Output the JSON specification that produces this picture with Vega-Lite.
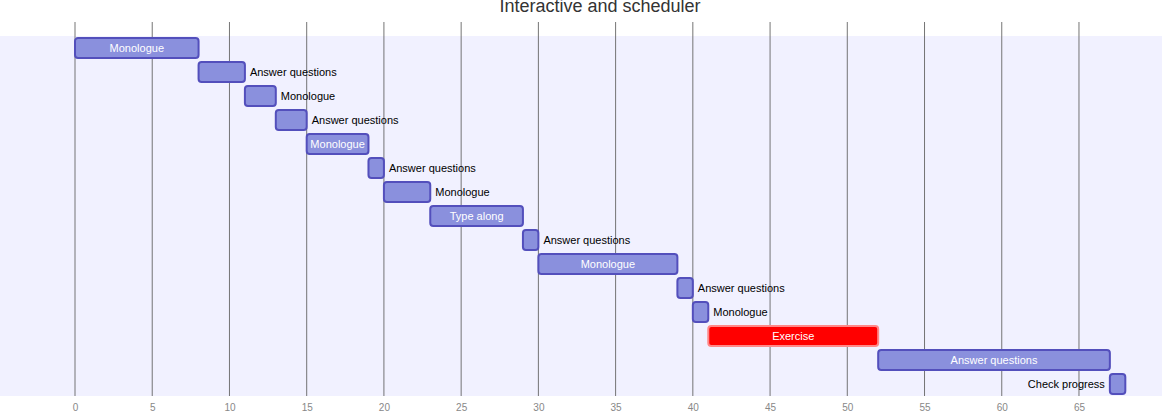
{
  "$schema": "https://vega.github.io/schema/vega-lite/v6.json",
  "width": 1162,
  "height": 374,
  "autosize": {"type": "none"},
  "padding": {"top": 22, "left": 0, "right": 0, "bottom": 15},
  "background": "white",
  "title": {
    "text": "Interactive and scheduler",
    "fontSize": 18,
    "font": "Liberation Sans",
    "fontWeight": "normal",
    "color": "#333333",
    "anchor": "middle",
    "dx": 19,
    "offset": 6
  },
  "config": {"view": {"stroke": null}},
  "datasets": {
    "tasks": [
      {"task": "Monologue", "start": 0, "end": 8, "row": 0, "placement": "inside", "status": "normal"},
      {"task": "Answer questions", "start": 8, "end": 11, "row": 1, "placement": "right", "status": "normal"},
      {"task": "Monologue", "start": 11, "end": 13, "row": 2, "placement": "right", "status": "normal"},
      {"task": "Answer questions", "start": 13, "end": 15, "row": 3, "placement": "right", "status": "normal"},
      {"task": "Monologue", "start": 15, "end": 19, "row": 4, "placement": "inside", "status": "normal"},
      {"task": "Answer questions", "start": 19, "end": 20, "row": 5, "placement": "right", "status": "normal"},
      {"task": "Monologue", "start": 20, "end": 23, "row": 6, "placement": "right", "status": "normal"},
      {"task": "Type along", "start": 23, "end": 29, "row": 7, "placement": "inside", "status": "normal"},
      {"task": "Answer questions", "start": 29, "end": 30, "row": 8, "placement": "right", "status": "normal"},
      {"task": "Monologue", "start": 30, "end": 39, "row": 9, "placement": "inside", "status": "normal"},
      {"task": "Answer questions", "start": 39, "end": 40, "row": 10, "placement": "right", "status": "normal"},
      {"task": "Monologue", "start": 40, "end": 41, "row": 11, "placement": "right", "status": "normal"},
      {"task": "Exercise", "start": 41, "end": 52, "row": 12, "placement": "inside", "status": "crit"},
      {"task": "Answer questions", "start": 52, "end": 67, "row": 13, "placement": "inside", "status": "normal"},
      {"task": "Check progress", "start": 67, "end": 68, "row": 14, "placement": "left", "status": "normal"}
    ],
    "sections": [
      {"section": "Schedule", "rowStart": 0, "rowEnd": 15}
    ],
    "gridlines": [
      {"tick": 0}, {"tick": 5}, {"tick": 10}, {"tick": 15}, {"tick": 20}, {"tick": 25}, {"tick": 30},
      {"tick": 35}, {"tick": 40}, {"tick": 45}, {"tick": 50}, {"tick": 55}, {"tick": 60}, {"tick": 65}
    ]
  },
  "encoding": {
    "x": {
      "type": "quantitative",
      "scale": {"domain": [-4.856, 70.375], "nice": false, "zero": false},
      "axis": {
        "values": [0, 5, 10, 15, 20, 25, 30, 35, 40, 45, 50, 55, 60, 65],
        "title": null, "domain": false, "ticks": false, "grid": false,
        "labelFontSize": 10, "labelFont": "Liberation Sans", "labelColor": "#888888",
        "labelPadding": 6
      }
    },
    "y": {
      "type": "quantitative",
      "scale": {"domain": [-0.58333, 15], "reverse": true, "nice": false, "zero": false},
      "axis": null
    }
  },
  "layer": [
    {
      "data": {"name": "sections"},
      "mark": {"type": "rect", "fill": "#efefff", "fillOpacity": 0.9},
      "encoding": {
        "x": {"value": 0},
        "x2": {"value": "width"},
        "y": {"field": "rowStart", "type": "quantitative"},
        "y2": {"field": "rowEnd"}
      }
    },
    {
      "data": {"name": "gridlines"},
      "mark": {"type": "rule", "color": "#666666", "strokeWidth": 1, "opacity": 0.9},
      "encoding": {
        "x": {"field": "tick", "type": "quantitative"},
        "y": {"datum": -0.58333},
        "y2": {"datum": 15}
      }
    },
    {
      "data": {"name": "tasks"},
      "mark": {"type": "rect", "cornerRadius": 3, "strokeWidth": 2, "yOffset": 2, "y2Offset": 22},
      "encoding": {
        "x": {"field": "start", "type": "quantitative"},
        "x2": {"field": "end"},
        "y": {"field": "row", "type": "quantitative"},
        "y2": {"field": "row"},
        "fill": {"field": "status", "type": "nominal", "scale": {"domain": ["normal", "crit"], "range": ["#8a90dd", "#ff0000"]}, "legend": null},
        "stroke": {"field": "status", "type": "nominal", "scale": {"domain": ["normal", "crit"], "range": ["#534fbc", "#ff8888"]}, "legend": null}
      }
    },
    {
      "data": {"name": "tasks"},
      "transform": [
        {"filter": "datum.placement === 'inside'"},
        {"fold": ["start", "end"], "as": ["edge", "pos"]},
        {"aggregate": [{"op": "mean", "field": "pos", "as": "mid"}], "groupby": ["row", "task"]}
      ],
      "mark": {"type": "text", "align": "center", "baseline": "middle", "yOffset": 13, "font": "Liberation Sans", "fontSize": 11, "color": "#ffffff"},
      "encoding": {
        "x": {"field": "mid", "type": "quantitative"},
        "y": {"field": "row", "type": "quantitative"},
        "text": {"field": "task"}
      }
    },
    {
      "data": {"name": "tasks"},
      "transform": [{"filter": "datum.placement === 'right'"}],
      "mark": {"type": "text", "align": "left", "baseline": "middle", "yOffset": 13, "dx": 5, "font": "Liberation Sans", "fontSize": 11, "color": "#000000"},
      "encoding": {
        "x": {"field": "end", "type": "quantitative"},
        "y": {"field": "row", "type": "quantitative"},
        "text": {"field": "task"}
      }
    },
    {
      "data": {"name": "tasks"},
      "transform": [{"filter": "datum.placement === 'left'"}],
      "mark": {"type": "text", "align": "right", "baseline": "middle", "yOffset": 13, "dx": -5, "font": "Liberation Sans", "fontSize": 11, "color": "#000000"},
      "encoding": {
        "x": {"field": "start", "type": "quantitative"},
        "y": {"field": "row", "type": "quantitative"},
        "text": {"field": "task"}
      }
    }
  ]
}
